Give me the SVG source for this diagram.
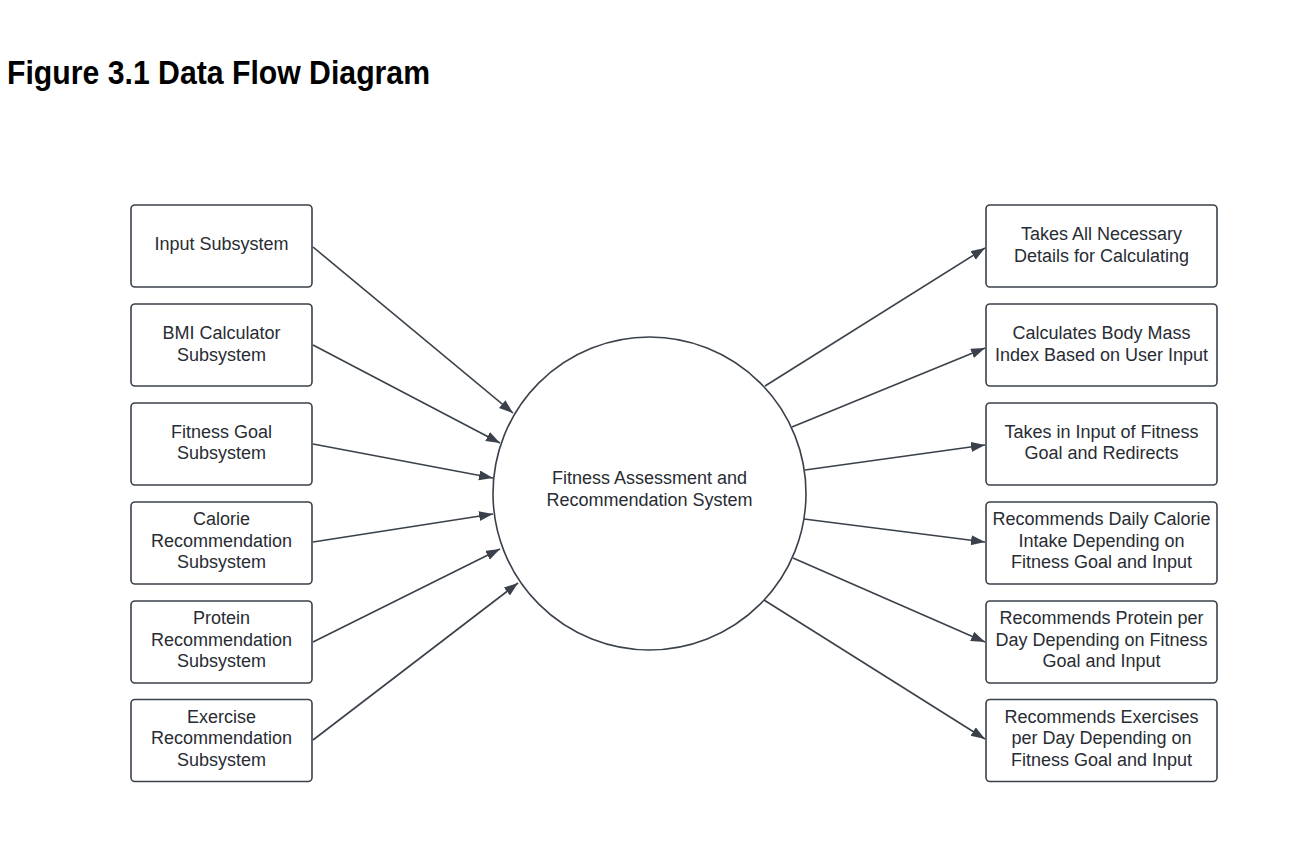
<svg xmlns="http://www.w3.org/2000/svg" width="1300" height="844" viewBox="0 0 1300 844">
<style>
.box{fill:#fff;stroke:#3a414a;stroke-width:1.6}
.t{font-family:"Liberation Sans",Arial,sans-serif;font-size:18px;fill:#282c33;text-anchor:middle}
.c{fill:none;stroke:#3a414a;stroke-width:1.6}
.title{font-family:"Liberation Sans",Arial,sans-serif;font-size:33px;font-weight:bold;fill:#000}
</style>
<defs>
<marker id="arr" markerUnits="userSpaceOnUse" markerWidth="15" markerHeight="11" refX="14" refY="5" orient="auto">
<path d="M0,0 L14,5 L0,10 z" fill="#3a414a"/>
</marker>
</defs>
<rect width="1300" height="844" fill="#fff"/>
<text class="title" x="7" y="84" textLength="423" lengthAdjust="spacingAndGlyphs">Figure 3.1 Data Flow Diagram</text>

<g id="connectors">
<line class="c" x1="313" y1="247" x2="513" y2="413" marker-end="url(#arr)"/>
<line class="c" x1="313" y1="345" x2="500" y2="443" marker-end="url(#arr)"/>
<line class="c" x1="313" y1="444" x2="493" y2="478" marker-end="url(#arr)"/>
<line class="c" x1="313" y1="542" x2="493" y2="514" marker-end="url(#arr)"/>
<line class="c" x1="313" y1="642" x2="500" y2="549" marker-end="url(#arr)"/>
<line class="c" x1="313" y1="740" x2="518" y2="583" marker-end="url(#arr)"/>
<line class="c" x1="765" y1="386" x2="985" y2="248" marker-end="url(#arr)"/>
<line class="c" x1="792" y1="427" x2="985" y2="348" marker-end="url(#arr)"/>
<line class="c" x1="805" y1="470" x2="985" y2="445" marker-end="url(#arr)"/>
<line class="c" x1="804" y1="519" x2="985" y2="542" marker-end="url(#arr)"/>
<line class="c" x1="793" y1="558" x2="985" y2="642" marker-end="url(#arr)"/>
<line class="c" x1="764" y1="600" x2="985" y2="739" marker-end="url(#arr)"/>
</g>

<g id="system">
<circle class="box" cx="649.5" cy="493.5" r="156.5"/>
<text class="t" x="649.5" y="484.3">Fitness Assessment and</text>
<text class="t" x="649.5" y="506">Recommendation System</text>
</g>

<g id="input-subsystem">
<rect class="box" x="131" y="205" width="181" height="82" rx="4"/>
<text class="t" x="221.5" y="250">Input Subsystem</text>
</g>
<g id="bmi-subsystem">
<rect class="box" x="131" y="304" width="181" height="82" rx="4"/>
<text class="t" x="221.5" y="339">BMI Calculator</text>
<text class="t" x="221.5" y="360.7">Subsystem</text>
</g>
<g id="goal-subsystem">
<rect class="box" x="131" y="403" width="181" height="82" rx="4"/>
<text class="t" x="221.5" y="437.5">Fitness Goal</text>
<text class="t" x="221.5" y="459.2">Subsystem</text>
</g>
<g id="calorie-subsystem">
<rect class="box" x="131" y="502" width="181" height="82" rx="4"/>
<text class="t" x="221.5" y="525">Calorie</text>
<text class="t" x="221.5" y="546.7">Recommendation</text>
<text class="t" x="221.5" y="568.3">Subsystem</text>
</g>
<g id="protein-subsystem">
<rect class="box" x="131" y="601" width="181" height="82" rx="4"/>
<text class="t" x="221.5" y="624">Protein</text>
<text class="t" x="221.5" y="645.7">Recommendation</text>
<text class="t" x="221.5" y="667.3">Subsystem</text>
</g>
<g id="exercise-subsystem">
<rect class="box" x="131" y="699.5" width="181" height="82" rx="4"/>
<text class="t" x="221.5" y="722.5">Exercise</text>
<text class="t" x="221.5" y="744.2">Recommendation</text>
<text class="t" x="221.5" y="765.8">Subsystem</text>
</g>

<g id="out-details">
<rect class="box" x="986" y="205" width="231" height="82" rx="4"/>
<text class="t" x="1101.5" y="240">Takes All Necessary</text>
<text class="t" x="1101.5" y="261.7">Details for Calculating</text>
</g>
<g id="out-bmi">
<rect class="box" x="986" y="304" width="231" height="82" rx="4"/>
<text class="t" x="1101.5" y="339">Calculates Body Mass</text>
<text class="t" x="1101.5" y="360.7">Index Based on User Input</text>
</g>
<g id="out-goal">
<rect class="box" x="986" y="403" width="231" height="82" rx="4"/>
<text class="t" x="1101.5" y="437.5">Takes in Input of Fitness</text>
<text class="t" x="1101.5" y="459.2">Goal and Redirects</text>
</g>
<g id="out-calorie">
<rect class="box" x="986" y="502" width="231" height="82" rx="4"/>
<text class="t" x="1101.5" y="525">Recommends Daily Calorie</text>
<text class="t" x="1101.5" y="546.7">Intake Depending on</text>
<text class="t" x="1101.5" y="568.3">Fitness Goal and Input</text>
</g>
<g id="out-protein">
<rect class="box" x="986" y="601" width="231" height="82" rx="4"/>
<text class="t" x="1101.5" y="624">Recommends Protein per</text>
<text class="t" x="1101.5" y="645.7">Day Depending on Fitness</text>
<text class="t" x="1101.5" y="667.3">Goal and Input</text>
</g>
<g id="out-exercise">
<rect class="box" x="986" y="699.5" width="231" height="82" rx="4"/>
<text class="t" x="1101.5" y="722.5">Recommends Exercises</text>
<text class="t" x="1101.5" y="744.2">per Day Depending on</text>
<text class="t" x="1101.5" y="765.8">Fitness Goal and Input</text>
</g>
</svg>
